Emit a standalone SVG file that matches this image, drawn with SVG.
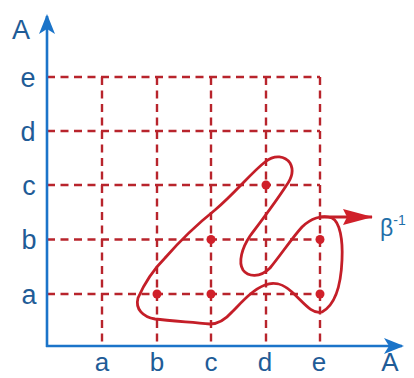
<svg xmlns="http://www.w3.org/2000/svg" width="414" height="378" viewBox="0 0 414 378">
<defs>
<style>
.grid{stroke:#b8242c;stroke-width:2.4;stroke-dasharray:8 5.5;fill:none}
.axis{stroke:#1b74c9;stroke-width:2.6;fill:none}
.blob{stroke:#c41e28;stroke-width:2.8;fill:none;stroke-linejoin:round}
.dot{fill:#d0202a}
.lbl{font-family:"Liberation Sans",Arial,sans-serif;font-size:27px;fill:#1f5c97;text-anchor:middle}
.bot{font-size:26px}
</style>
<marker id="ab" viewBox="0 0 20 16" refX="18" refY="8" markerWidth="20" markerHeight="16" markerUnits="userSpaceOnUse" orient="auto">
<path d="M0,0 L20,8 L0,16 L5,8 Z" fill="#1b74c9"/>
</marker>
<marker id="ar" viewBox="0 0 30 16" refX="29" refY="8" markerWidth="30" markerHeight="16" markerUnits="userSpaceOnUse" orient="auto">
<path d="M0,0 L30,8 L0,16 L4,8 Z" fill="#d0202a"/>
</marker>
</defs>
<rect width="414" height="378" fill="#fff"/>
<g id="grid">
<path class="grid" d="M47,77 H320 M47,131 H320 M47,185 H320 M47,239.5 H320 M47,294 H320"/>
<path class="grid" d="M102,77 V346 M157,77 V346 M211,77 V346 M266,77 V346 M320,77 V346"/>
</g>
<g id="axes">
<path class="axis" d="M47,347 V16" marker-end="url(#ab)"/>
<path class="axis" d="M46,346 H402" marker-end="url(#ab)"/>
</g>
<g id="labels">
<text class="lbl" x="21" y="39">A</text>
<text class="lbl" x="28" y="87">e</text>
<text class="lbl" x="28" y="141">d</text>
<text class="lbl" x="29" y="195">c</text>
<text class="lbl" x="29" y="249">b</text>
<text class="lbl" x="29" y="304">a</text>
<text class="lbl bot" x="102" y="371">a</text>
<text class="lbl bot" x="157" y="371">b</text>
<text class="lbl bot" x="211" y="371">c</text>
<text class="lbl bot" x="265" y="371">d</text>
<text class="lbl bot" x="319" y="371">e</text>
<text class="lbl bot" x="390" y="371">A</text>
</g>
<g id="relation">
<path class="blob" d="M138,298 C145,282 155,268 165,258 C185,235 200,222 215,210 C235,193 252,172 265,162 C275,154 285,156 290,163 C294,170 292,178 286,186 C275,203 262,220 250,236 C242,248 238,262 243,270 C248,277 260,278 270,268 C280,256 292,238 302,227 C310,219 322,214 332,218 C340,222 343,240 342,260 C341,285 335,305 322,312 C312,315 303,302 292,292 C283,284 275,281 265,285 C252,290 242,302 232,312 C225,320 217,324 210,324 C190,322 170,321 155,319 C143,317 135,309 138,298 Z"/>
<path class="blob" d="M320,217 H372" marker-end="url(#ar)"/>
<circle class="dot" cx="157" cy="294" r="4.5"/>
<circle class="dot" cx="211" cy="294" r="4.5"/>
<circle class="dot" cx="320" cy="294" r="4.5"/>
<circle class="dot" cx="211" cy="239.5" r="4.5"/>
<circle class="dot" cx="320" cy="239.5" r="4.5"/>
<circle class="dot" cx="266" cy="185" r="4.5"/>
<text x="380" y="236" font-family="'Liberation Sans',Arial,sans-serif" font-size="23" fill="#1f6fa8">β<tspan font-size="14" dy="-11">-1</tspan></text>
</g>
</svg>
